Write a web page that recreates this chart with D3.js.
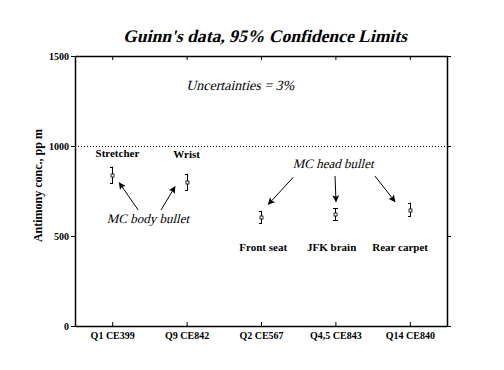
<!doctype html>
<html>
<head>
	<style>
		body{margin:0;background:#fff;}
		svg text{font-family:"Liberation Serif","DejaVu Serif",serif !important;fill:#000;}
		.bold{font-weight:bold;}
	</style>
</head>
<body>
	<div id="root"></div>
	<script src="https://d3js.org/d3.v7.min.js"></script>
	<script>
		var categories = ['Q1 CE399', 'Q9 CE842', 'Q2 CE567', 'Q4,5 CE843', 'Q14 CE840'];
		var sampleNames = ['Stretcher', 'Wrist', 'Front seat', 'JFK brain', 'Rear carpet'];
		var values = [840, 800, 605, 622, 644];
		var lower = [793, 756, 572, 589, 611];
		var upper = [885, 846, 640, 653, 686];
		var yTicks = [0, 500, 1000, 1500];
		var refLine = 1000;

		// label anchors, in (category position, ppm)
		var nameX = [1.07, 2.0, 3.03, 3.95, 4.87];
		var nameY = [939, 933, 418, 418, 418];
		var notes = [
			{text: 'Uncertainties = 3%', x: 2.72, y: 1311, size: 14},
			{text: 'MC body bullet', x: 1.48, y: 572, size: 13},
			{text: 'MC head bullet', x: 3.97, y: 878, size: 13}
		];
		var arrows = [
			[1.35, 644, 1.095, 796],
			[1.656, 644, 1.844, 774],
			[3.434, 826, 3.098, 676],
			[3.995, 833, 4.008, 691],
			[4.532, 833, 4.801, 691]
		];

		var W = 504, H = 370;
		var margin = {top: 56, right: 57, bottom: 44, left: 75};

		var x = d3.scaleLinear()
			.domain([0.5, categories.length + 0.5])
			.range([margin.left, W - margin.right]);
		var y = d3.scaleLinear()
			.domain([0, 1500])
			.range([H - margin.bottom, margin.top]);

		var svg = d3.select('#root').append('svg')
			.attr('width', W)
			.attr('height', H);

		svg.append('defs').append('marker')
			.attr('id', 'head')
			.attr('viewBox', '0 0 10 10')
			.attr('refX', 9).attr('refY', 5)
			.attr('markerWidth', 8).attr('markerHeight', 7)
			.attr('markerUnits', 'userSpaceOnUse')
			.attr('orient', 'auto')
			.append('path')
			.attr('d', 'M0,0L10,5L0,10L2,5z')
			.attr('fill', '#000');

		// slanted text (italic faces are not reliable here)
		function slant(px, py, str, size, bold) {
			svg.append('g')
				.attr('transform', 'translate(' + px + ',' + py + ')')
				.append('text')
				.attr('class', bold ? 'bold' : null)
				.attr('font-size', size)
				.attr('text-anchor', 'middle')
				.attr('transform', 'skewX(-14)')
				.text(str);
		}

		// dotted reference line
		svg.append('line')
			.attr('x1', x.range()[0]).attr('x2', x.range()[1])
			.attr('y1', y(refLine) + 0.5).attr('y2', y(refLine) + 0.5)
			.attr('stroke', '#000')
			.attr('stroke-dasharray', '1,2');

		var idx = d3.range(1, categories.length + 1);

		// axes
		var axLeft = svg.append('g')
			.attr('transform', 'translate(' + margin.left + ',0)')
			.call(d3.axisLeft(y).tickValues(yTicks).tickSize(4).tickSizeOuter(0).tickFormat(d3.format('d')));
		var axRight = svg.append('g')
			.attr('transform', 'translate(' + (W - margin.right) + ',0)')
			.call(d3.axisLeft(y).tickValues(yTicks).tickSize(-4).tickSizeOuter(0).tickFormat(''));
		var axBottom = svg.append('g')
			.attr('transform', 'translate(0,' + (H - margin.bottom) + ')')
			.call(d3.axisBottom(x).tickValues(idx).tickSize(-4).tickSizeOuter(0)
				.tickFormat(function(d){ return categories[d - 1]; }));
		var axTop = svg.append('g')
			.attr('transform', 'translate(0,' + margin.top + ')')
			.call(d3.axisTop(x).tickValues(idx).tickSize(-4).tickSizeOuter(0).tickFormat(''));

		[axLeft, axRight, axBottom, axTop].forEach(function(g){
			g.select('.domain').attr('stroke-width', 1.5);
			g.selectAll('text').attr('class', 'bold').attr('font-size', 10);
		});
		axLeft.selectAll('text').attr('x', -6).attr('dy', '0.35em');
		axBottom.selectAll('text').attr('y', 5).attr('dy', '0.75em');

		svg.append('text')
			.attr('class', 'bold')
			.attr('font-size', 12)
			.attr('text-anchor', 'middle')
			.attr('transform', 'translate(42,' + y(780) + ') rotate(-90)')
			.text('Antimony conc., pp m');

		slant(265, 42, "Guinn's data, 95% Confidence Limits", 17.6, true);

		// error bars
		var bars = svg.selectAll('.eb')
			.data(idx)
			.enter().append('g')
			.attr('class', 'eb');
		bars.append('line')
			.attr('x1', function(d){ return Math.round(x(d)) + 0.5; })
			.attr('x2', function(d){ return Math.round(x(d)) + 0.5; })
			.attr('y1', function(d){ return y(lower[d - 1]); })
			.attr('y2', function(d){ return y(upper[d - 1]); })
			.attr('stroke', '#000');
		bars.selectAll('.cap')
			.data(function(d){ return [[d, lower[d - 1]], [d, upper[d - 1]]]; })
			.enter().append('line')
			.attr('x1', function(d){ return Math.round(x(d[0])) - 2; })
			.attr('x2', function(d){ return Math.round(x(d[0])) + (d[0] === 4 ? 3 : 1); })
			.attr('y1', function(d){ return Math.round(y(d[1])) + 0.5; })
			.attr('y2', function(d){ return Math.round(y(d[1])) + 0.5; })
			.attr('stroke', '#000');
		bars.append('rect')
			.attr('x', function(d){ return Math.round(x(d)) - 1; })
			.attr('y', function(d){ return Math.round(y(values[d - 1])) - 1; })
			.attr('width', 3).attr('height', 3)
			.attr('fill', '#fff').attr('stroke', '#000').attr('stroke-width', 0.8);

		svg.selectAll('.name')
			.data(sampleNames)
			.enter().append('text')
			.attr('class', 'bold')
			.attr('font-size', 11)
			.attr('text-anchor', 'middle')
			.attr('x', function(d, i){ return x(nameX[i]); })
			.attr('y', function(d, i){ return y(nameY[i]); })
			.text(function(d){ return d; });

		notes.forEach(function(n){ slant(x(n.x), y(n.y), n.text, n.size, false); });

		svg.selectAll('.arrow')
			.data(arrows)
			.enter().append('line')
			.attr('x1', function(d){ return x(d[0]); })
			.attr('y1', function(d){ return y(d[1]); })
			.attr('x2', function(d){ return x(d[2]); })
			.attr('y2', function(d){ return y(d[3]); })
			.attr('stroke', '#000')
			.attr('marker-end', 'url(#head)');
	</script>
</body>
</html>
